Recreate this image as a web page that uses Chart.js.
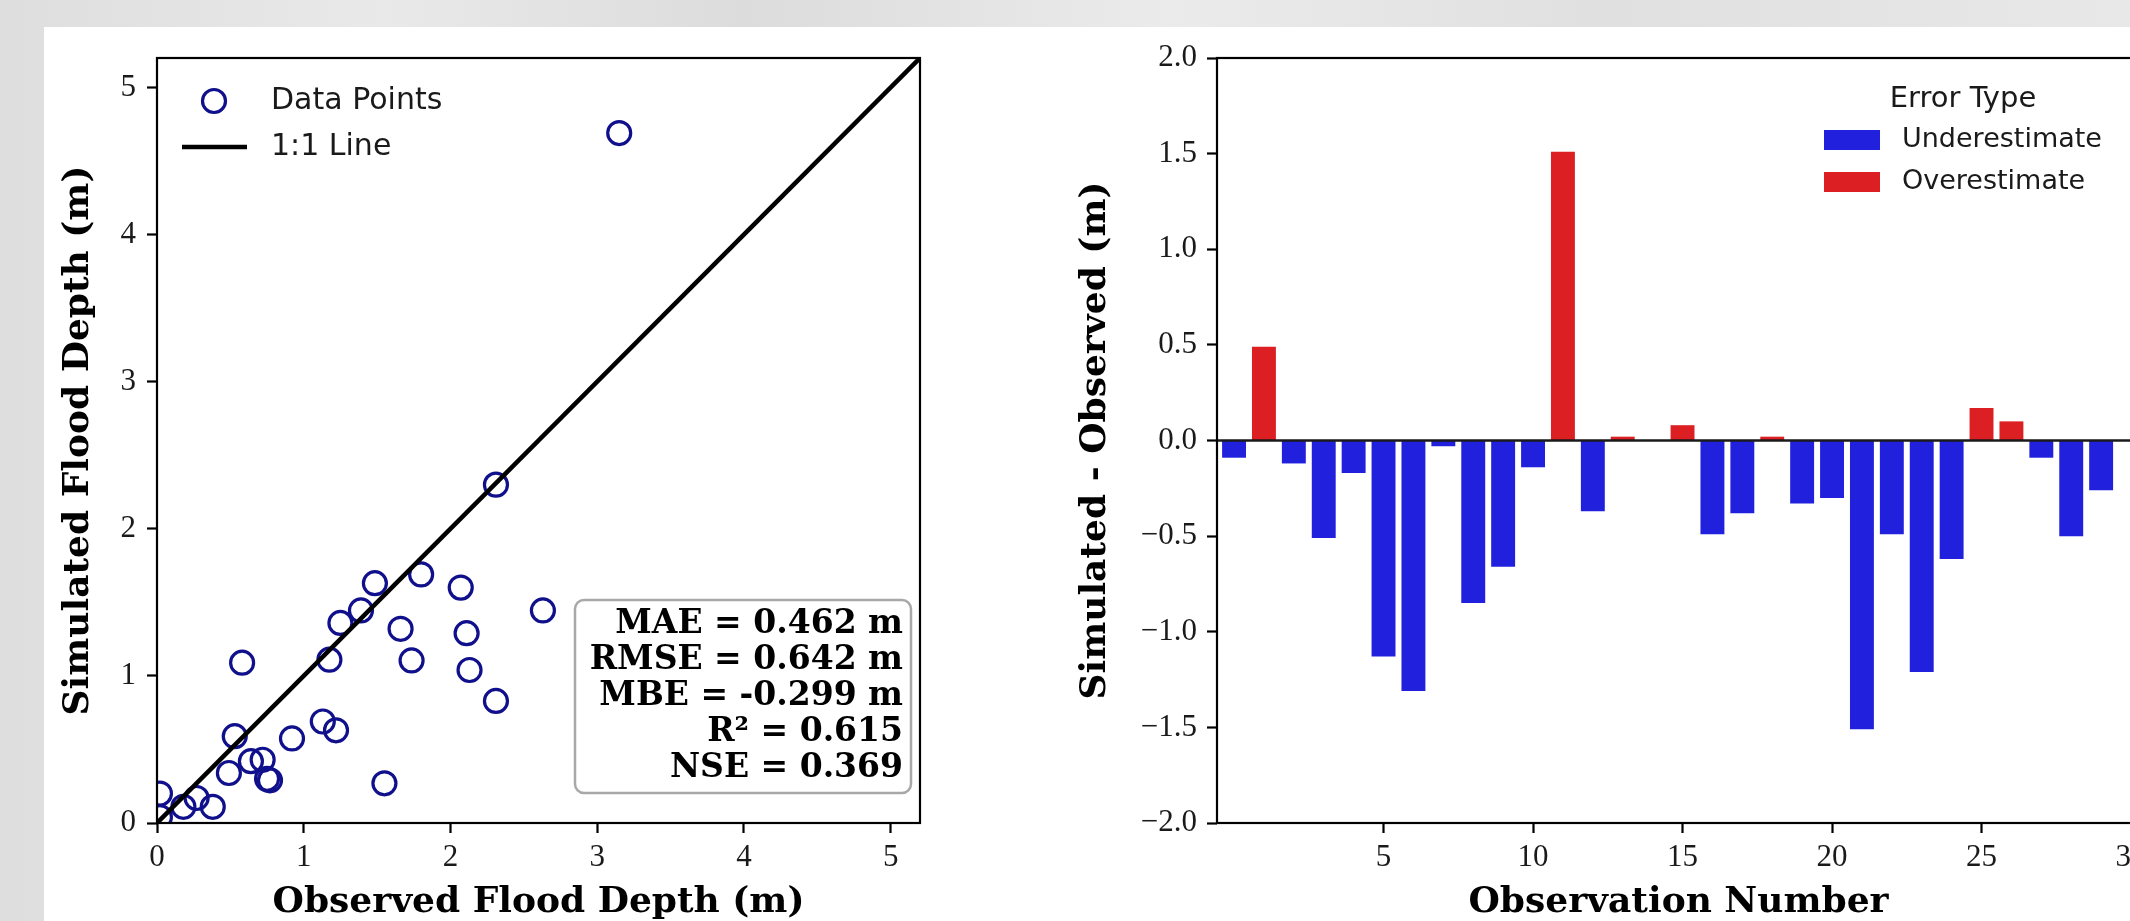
<!DOCTYPE html>
<html>
<head>
<meta charset="utf-8">
<title>Flood depth validation</title>
<script src="https://cdn.jsdelivr.net/npm/chart.js@4.4.1/dist/chart.umd.min.js"></script>
<style>
  html, body { margin: 0; padding: 0; width: 2130px; height: 921px; overflow: hidden; }
  body { background: linear-gradient(90deg, #dedede, #e9e9e9 18%, #dcdcdc 35%, #ebebeb 55%, #e0e0e0 75%, #e8e8e8); }
  .card { position: absolute; left: 44px; top: 27px; right: 0; bottom: 0; background: #fff; }
  #scatterChart { position: absolute; left: 0; top: 0; }
  #errorChart { position: absolute; left: 960px; top: 0; }
</style>
</head>
<body>
<div class="card"></div>
<canvas id="scatterChart" width="960" height="921"></canvas>
<canvas id="errorChart" width="1200" height="921"></canvas>
<script>
// scatter: observed vs simulated depth (m)
const observed  = [0.02, 0.02, 0.18, 0.27, 0.38, 0.49, 0.53, 0.58, 0.64, 0.72, 0.75, 0.77, 0.92, 1.13, 1.22,
                   1.175, 1.25, 1.39, 1.485, 1.55, 1.66, 1.735, 1.80, 2.07, 2.11, 2.13, 2.31, 2.63, 2.31, 3.15];
const simulated = [0.20, 0.04, 0.11, 0.17, 0.11, 0.34, 0.59, 1.09, 0.42, 0.43, 0.30, 0.29, 0.575, 0.69, 0.63,
                   1.11, 1.36, 1.445, 1.63, 0.27, 1.32, 1.105, 1.69, 1.60, 1.29, 1.04, 0.83, 1.445, 2.30, 4.69];
const oneToOne = [0, 5.2];
const depthTicks = [0, 1, 2, 3, 4, 5];
const stats = ['MAE = 0.462 m', 'RMSE = 0.642 m', 'MBE = -0.299 m', 'R\u00b2 = 0.615', 'NSE = 0.369'];

// bars: simulated - observed per observation
const obsNumber = [0, 1, 2, 3, 4, 5, 6, 7, 8, 9, 10, 11, 12, 13, 14,
                   15, 16, 17, 18, 19, 20, 21, 22, 23, 24, 25, 26, 27, 28, 29];
const residual = [-0.09, 0.49, -0.12, -0.51, -0.17, -1.13, -1.31, -0.03, -0.85, -0.66, -0.14, 1.51, -0.37, 0.02, 0.00,
                  0.08, -0.49, -0.38, 0.02, -0.33, -0.30, -1.51, -0.49, -1.21, -0.62, 0.17, 0.10, -0.09, -0.50, -0.26];
const obsTicks = [5, 10, 15, 20, 25, 30];
const residualTicks = [-2, -1.5, -1, -0.5, 0, 0.5, 1, 1.5, 2];

const pointBlue = '#10108c';
const underBlue = '#2121dd';
const overRed = '#dc1f23';
const tickFont = { family: 'Liberation Serif', size: 31 };
const titleFont = { family: 'DejaVu Serif', size: 36, weight: 'bold', lineHeight: 1 };

const frame = {
  id: 'frame',
  afterDraw(chart) {
    const { ctx, chartArea: a } = chart;
    ctx.save();
    ctx.strokeStyle = '#000';
    ctx.lineWidth = 2.2;
    ctx.strokeRect(a.left, a.top, a.right - a.left, a.bottom - a.top);
    ctx.restore();
  }
};

const scatterLegend = {
  id: 'scatterLegend',
  afterDraw(chart) {
    const { ctx, chartArea: a } = chart;
    ctx.save();
    ctx.beginPath();
    ctx.arc(a.left + 57, a.top + 43, 11.5, 0, Math.PI * 2);
    ctx.strokeStyle = pointBlue;
    ctx.lineWidth = 3.2;
    ctx.stroke();
    ctx.beginPath();
    ctx.moveTo(a.left + 25, a.top + 89);
    ctx.lineTo(a.left + 90, a.top + 89);
    ctx.strokeStyle = '#000';
    ctx.lineWidth = 4.5;
    ctx.stroke();
    ctx.fillStyle = '#1a1a1a';
    ctx.font = '30px "DejaVu Sans"';
    ctx.textBaseline = 'middle';
    ctx.fillText('Data Points', a.left + 114, a.top + 43);
    ctx.fillText('1:1 Line', a.left + 114, a.top + 89);
    ctx.restore();
  }
};

const statsBox = {
  id: 'statsBox',
  afterDatasetsDraw(chart) {
    const { ctx, chartArea: a } = chart;
    const x0 = a.right - 345, x1 = a.right - 9, y0 = a.bottom - 223, y1 = a.bottom - 30;
    ctx.save();
    ctx.beginPath();
    ctx.roundRect(x0, y0, x1 - x0, y1 - y0, 9);
    ctx.fillStyle = 'rgba(255,255,255,0.9)';
    ctx.fill();
    ctx.strokeStyle = '#a8a8a8';
    ctx.lineWidth = 2.5;
    ctx.stroke();
    ctx.font = 'bold 33px "DejaVu Serif"';
    ctx.fillStyle = '#000';
    ctx.textAlign = 'right';
    ctx.textBaseline = 'middle';
    stats.forEach((s, i) => ctx.fillText(s, x1 - 8, y0 + 24 + i * 36));
    ctx.restore();
  }
};

const zeroLine = {
  id: 'zeroLine',
  afterDatasetsDraw(chart) {
    const { ctx, chartArea: a, scales } = chart;
    const y = scales.y.getPixelForValue(0);
    ctx.save();
    ctx.beginPath();
    ctx.moveTo(a.left, y);
    ctx.lineTo(a.right, y);
    ctx.strokeStyle = '#1a1a1a';
    ctx.lineWidth = 2.6;
    ctx.stroke();
    ctx.restore();
  }
};

const errorLegend = {
  id: 'errorLegend',
  afterDraw(chart) {
    const { ctx, chartArea: a } = chart;
    ctx.save();
    ctx.textBaseline = 'middle';
    ctx.fillStyle = '#1a1a1a';
    ctx.font = '29px "DejaVu Sans"';
    ctx.textAlign = 'center';
    ctx.fillText('Error Type', a.right - 177, a.top + 41);
    ctx.font = '27px "DejaVu Sans"';
    ctx.textAlign = 'left';
    chart.data.datasets.forEach((ds, i) => {
      const cy = a.top + 82 + i * 42;
      ctx.fillStyle = ds.backgroundColor;
      ctx.fillRect(a.right - 316, cy - 10, 56, 20);
      ctx.fillStyle = '#1a1a1a';
      ctx.fillText(ds.label, a.right - 238, cy);
    });
    ctx.restore();
  }
};

function tickGrid() {
  return { drawOnChartArea: false, drawTicks: true, tickLength: 10, tickWidth: 2.2, tickColor: '#000', offset: false };
}

const minus = v => String(v).replace('-', '\u2212');

new Chart(document.getElementById('scatterChart'), {
  type: 'scatter',
  data: {
    datasets: [
      {
        label: 'Data Points',
        data: observed.map((x, i) => ({ x: x, y: simulated[i] })),
        pointStyle: 'circle',
        pointRadius: 11.5,
        pointHoverRadius: 11.5,
        borderColor: pointBlue,
        backgroundColor: 'rgba(0,0,0,0)',
        borderWidth: 3.2,
        clip: 0,
        order: 2
      },
      {
        label: '1:1 Line',
        type: 'line',
        data: oneToOne.map(v => ({ x: v, y: v })),
        borderColor: '#000',
        borderWidth: 4.5,
        pointRadius: 0,
        showLine: true,
        clip: 0,
        order: 1
      }
    ]
  },
  options: {
    responsive: false,
    animation: false,
    layout: { padding: { top: 58, right: 40, bottom: 0, left: 0 } },
    plugins: { legend: { display: false }, tooltip: { enabled: false } },
    scales: {
      x: {
        type: 'linear', min: 0, max: oneToOne[1],
        afterBuildTicks: s => { s.ticks = depthTicks.map(v => ({ value: v })); },
        afterFit: s => { s.height = 98; },
        ticks: { font: tickFont, color: '#1a1a1a', padding: 6, autoSkip: false, maxRotation: 0 },
        grid: tickGrid(),
        border: { display: false },
        title: { display: true, text: 'Observed Flood Depth (m)', font: titleFont, color: '#000', padding: { top: 0, bottom: 0 } }
      },
      y: {
        type: 'linear', min: 0, max: oneToOne[1],
        afterBuildTicks: s => { s.ticks = depthTicks.map(v => ({ value: v })); },
        afterFit: s => { s.width = 157; },
        ticks: { font: tickFont, color: '#1a1a1a', padding: 11, autoSkip: false },
        grid: tickGrid(),
        border: { display: false },
        title: { display: true, text: 'Simulated Flood Depth (m)', font: titleFont, color: '#000', padding: { top: 61, bottom: 0 } }
      }
    }
  },
  plugins: [statsBox, scatterLegend, frame]
});

new Chart(document.getElementById('errorChart'), {
  type: 'bar',
  data: {
    datasets: [
      {
        label: 'Underestimate',
        data: obsNumber.filter((n, i) => residual[i] <= 0).map(n => ({ x: n, y: residual[n] })),
        backgroundColor: underBlue
      },
      {
        label: 'Overestimate',
        data: obsNumber.filter((n, i) => residual[i] > 0).map(n => ({ x: n, y: residual[n] })),
        backgroundColor: overRed
      }
    ]
  },
  options: {
    responsive: false,
    animation: false,
    layout: { padding: { top: 58, right: 20, bottom: 0, left: 0 } },
    datasets: { bar: { grouped: false, barPercentage: 0.8, categoryPercentage: 1, borderWidth: 0 } },
    plugins: { legend: { display: false }, tooltip: { enabled: false } },
    scales: {
      x: {
        type: 'linear', min: -0.57, max: 30.3, offset: false,
        afterBuildTicks: s => { s.ticks = obsTicks.map(v => ({ value: v })); },
        afterFit: s => { s.height = 98; },
        ticks: { font: tickFont, color: '#1a1a1a', padding: 6, autoSkip: false, maxRotation: 0 },
        grid: tickGrid(),
        border: { display: false },
        title: { display: true, text: 'Observation Number', font: titleFont, color: '#000', padding: { top: 0, bottom: 0 } }
      },
      y: {
        type: 'linear', min: -2, max: 2,
        afterBuildTicks: s => { s.ticks = residualTicks.map(v => ({ value: v })); },
        afterFit: s => { s.width = 257; },
        ticks: { font: tickFont, color: '#1a1a1a', padding: 10, autoSkip: false, callback: v => minus(v.toFixed(1)) },
        grid: tickGrid(),
        border: { display: false },
        title: { display: true, text: 'Simulated - Observed (m)', font: titleFont, color: '#000', padding: { top: 118, bottom: 0 } }
      }
    }
  },
  plugins: [zeroLine, errorLegend, frame]
});
</script>
</body>
</html>
